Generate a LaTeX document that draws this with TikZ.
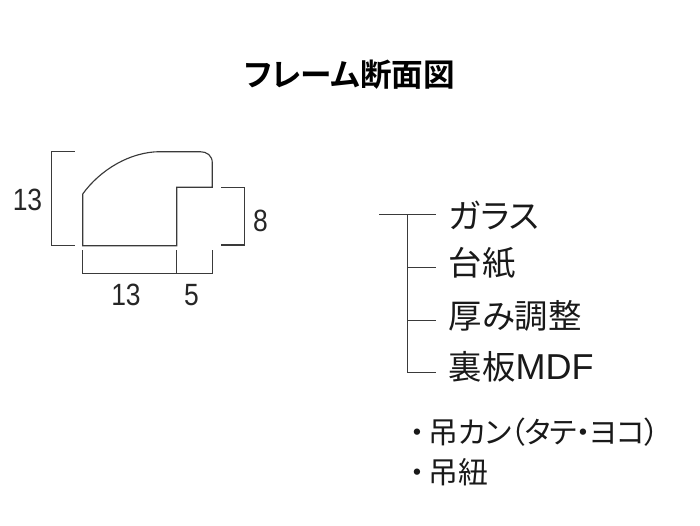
\documentclass[tikz,border=0pt]{standalone}
\usepackage{fontspec}
\setmainfont{Liberation Sans}
\newfontfamily\digitfont[FakeStretch=0.86]{Liberation Sans}
\newfontfamily\jpfont[RawFeature=+palt]{Noto Sans CJK JP}
\newfontfamily\jpnarrow[RawFeature=+palt, LetterSpace=-3.7]{Noto Sans CJK JP}
\newfontfamily\jpbold[RawFeature=+palt]{Noto Sans CJK JP Bold}
\definecolor{linegray}{HTML}{3A3A3A}
\tikzset{
	dimlabel/.style={inner sep=0pt, text=black!85, font=\digitfont\fontsize{17.5}{19}\selectfont},
	partlabel/.style={anchor=west, inner sep=0pt, text=black!90, font=\jpfont\fontsize{19}{21}\selectfont},
	notelabel/.style={anchor=west, inner sep=0pt, text=black!90, font=\jpfont\fontsize{17}{19}\selectfont},
	titlelabel/.style={inner sep=0pt, font=\jpbold\fontsize{18}{20}\selectfont}
}
\begin{document}
\begin{tikzpicture}
	\useasboundingbox (0,0) rectangle (14,10.5);
	% title
	\node[titlelabel] (title) at (6.99,9.0) {フレーム断面図};
	% frame section
	\draw[linegray, line width=0.65pt] (1.654,6.62) -- (1.654,5.586) -- (3.534,5.586) -- (3.534,6.754)
		-- (4.246,6.754) -- (4.246,7.24) .. controls (4.246,7.39) and (4.14,7.466) .. (4.0,7.466)
		-- (3.2,7.466) .. controls (2.6,7.466) and (2.0,7.1) .. (1.654,6.62);
	% dimension brackets
	\coordinate (la) at (1.494,7.47);
	\coordinate (lb) at (1.034,7.47);
	\coordinate (lc) at (1.034,5.586);
	\coordinate (ld) at (1.494,5.586);
	\coordinate (ra) at (4.426,6.754);
	\coordinate (rb) at (4.894,6.754);
	\coordinate (rc) at (4.894,5.6);
	\coordinate (rd) at (4.426,5.6);
	\coordinate (ba) at (1.654,5.5);
	\coordinate (bb) at (1.654,5.034);
	\coordinate (bc) at (3.534,5.5);
	\coordinate (bd) at (3.534,5.034);
	\coordinate (be) at (4.246,5.5);
	\coordinate (bf) at (4.246,5.034);
	\begin{scope}[every path/.style={draw=linegray, line width=0.6pt}]
		\path (la) -- (lb) -- (lc) -- (ld);
		\path (ra) -- (rb) -- (rc) -- (rd);
		\path (ba) -- (bb) -- (bf) -- (be);
		\path (bc) -- (bd);
	\end{scope}
	\node[dimlabel] (left13) at (0.55,6.5) {13};
	\node[dimlabel] (right8) at (5.21,6.08) {8};
	\node[dimlabel] (bottom13) at (2.52,4.6) {13};
	\node[dimlabel] (bottom5) at (3.83,4.6) {5};
	% parts
	\node[partlabel] (glass) at (8.97,6.2) {ガラス};
	\node[partlabel] (mount) at (8.97,5.24) {台紙};
	\node[partlabel] (spacer) at (8.97,4.18) {厚み調整};
	\node[partlabel] (back) at (8.97,3.17) {裏板{\fontspec{Liberation Sans}\fontsize{20.5}{21}\selectfont MDF}};
	\coordinate (start) at (7.586,6.214);
	\coordinate (t1) at (8.154,6.214);
	\coordinate (t2) at (8.154,5.154);
	\coordinate (t3) at (8.154,4.086);
	\coordinate (t4) at (8.154,3.046);
	\coordinate (e1) at (8.72,6.214);
	\coordinate (e2) at (8.72,5.154);
	\coordinate (e3) at (8.72,4.086);
	\coordinate (e4) at (8.72,3.046);
	\begin{scope}[every edge/.style={draw=linegray, line width=0.6pt}]
		\path (start) edge (e1);
		\path (t1) edge (t4);
		\path (t2) edge (e2);
		\path (t3) edge (e3);
		\path (t4) edge (e4);
	\end{scope}
	% accessories
	\node[notelabel] (hanger) at (8.2,1.86) {・\hspace{2pt}吊{\jpnarrow\fontsize{17}{19}\selectfont カン（タテ・ヨコ）}};
	\node[notelabel] (cord) at (8.2,1.06) {・\hspace{2pt}吊紐};
\end{tikzpicture}
\end{document}
